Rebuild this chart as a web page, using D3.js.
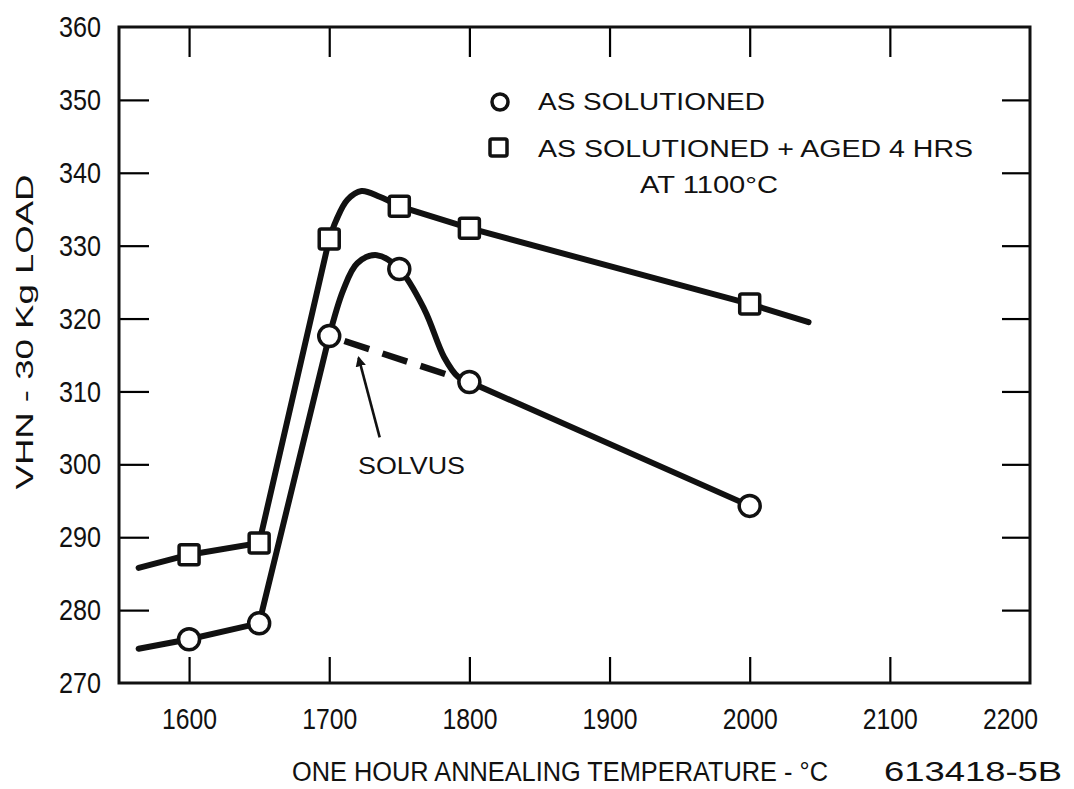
<!DOCTYPE html>
<html>
<head>
<meta charset="utf-8">
<script src="https://cdn.jsdelivr.net/npm/d3@7"></script>
<style>
  body { margin: 0; background: #fff; }
  text { font-family: "Liberation Sans", Arial, sans-serif; fill: #111; }
</style>
</head>
<body>
<script>
// values
const temps = [1600, 1650, 1700, 1750, 1800, 2000];
const solutioned = [276.0, 278.2, 317.6, 326.8, 311.3, 294.3];
const aged = [287.6, 289.2, 330.9, 335.4, 332.4, 322.0];

// traced points along the drawn curves (incl. line ends and the humps)
const solCurveT = [1564, 1600, 1650, 1700, 1710, 1720, 1734, 1750, 1768, 1782, 1792, 1800, 2000];
const solCurveV = [274.7, 276.0, 278.2, 317.6, 323.9, 327.6, 328.7, 326.8, 321.2, 314.7, 312.0, 311.3, 294.3];
const agedCurveT = [1564, 1600, 1650, 1700, 1705, 1713, 1723, 1736, 1750, 1800, 2000, 2042];
const agedCurveV = [285.8, 287.6, 289.2, 330.9, 333.5, 336.3, 337.5, 336.7, 335.4, 332.4, 322.0, 319.5];

// solvus dashed line and its arrow
const solvusT = [1700, 1800];
const solvusV = [317.6, 311.3];
const arrowT = [1736, 1721];
const arrowV = [303.7, 314.6];

const xTicks = [1600, 1700, 1800, 1900, 2000, 2100, 2200];
const yTicks = [270, 280, 290, 300, 310, 320, 330, 340, 350, 360];

const width = 1074, height = 789;
const svg = d3.select("body").append("svg")
    .attr("width", width)
    .attr("height", height);

const x = d3.scaleLinear().domain([1550, 2200]).range([119, 1030]);
const y = d3.scaleLinear().domain([270, 360]).range([683, 27]);

// axes, ticks pointing inward
svg.append("g")
    .attr("transform", `translate(0,${y(270)})`)
    .call(d3.axisBottom(x).tickValues(xTicks).tickSize(-26).tickPadding(25).tickFormat(d3.format("d")))
    .call(g => g.select(".domain").remove())
    .call(g => g.selectAll(".tick line").attr("stroke-width", 2.2).filter(d => d == 2200).remove())
    .call(g => g.selectAll(".tick text")
        .attr("font-size", 30).attr("fill", "#111")
        .attr("textLength", 55).attr("lengthAdjust", "spacingAndGlyphs")
        .attr("x", d => d == 2200 ? -20 : 0));

svg.append("g")
    .attr("transform", `translate(${x(1550)},0)`)
    .call(d3.axisLeft(y).tickValues(yTicks).tickSize(-30).tickPadding(18))
    .call(g => g.select(".domain").remove())
    .call(g => g.selectAll(".tick line").attr("stroke-width", 2.2).filter(d => d == 270 || d == 360).remove())
    .call(g => g.selectAll(".tick text")
        .attr("font-size", 30).attr("fill", "#111")
        .attr("textLength", 42).attr("lengthAdjust", "spacingAndGlyphs"));

svg.append("g")
    .attr("transform", `translate(0,${y(360)})`)
    .call(d3.axisTop(x).tickValues(xTicks.filter(d => d < 2200)).tickSize(-30).tickFormat(""))
    .call(g => g.select(".domain").remove())
    .call(g => g.selectAll(".tick line").attr("stroke-width", 2.2));

svg.append("g")
    .attr("transform", `translate(${x(2200)},0)`)
    .call(d3.axisRight(y).tickValues(yTicks.filter(d => d > 270 && d < 360)).tickSize(-28).tickFormat(""))
    .call(g => g.select(".domain").remove())
    .call(g => g.selectAll(".tick line").attr("stroke-width", 2.2));

svg.append("rect")
    .attr("x", x(1550))
    .attr("y", y(360))
    .attr("width", x(2200) - x(1550))
    .attr("height", y(270) - y(360))
    .attr("fill", "none")
    .attr("stroke", "#111")
    .attr("stroke-width", 3);

// curves: straight pieces with a smooth hump in the middle
function drawCurve(ts, vs, pieces) {
    const pts = ts.map((t, i) => [t, vs[i]]);
    pieces.forEach(p => {
        const line = d3.line().x(d => x(d[0])).y(d => y(d[1])).curve(p[2]);
        svg.append("path")
            .attr("d", line(pts.slice(p[0], p[1] + 1)))
            .attr("fill", "none")
            .attr("stroke", "#111")
            .attr("stroke-width", 6)
            .attr("stroke-linecap", "round")
            .attr("stroke-linejoin", "round");
    });
}

const smooth = d3.curveCatmullRom.alpha(0.5);
drawCurve(agedCurveT, agedCurveV, [[0, 3, d3.curveLinear], [3, 8, smooth], [8, 11, d3.curveLinear]]);
drawCurve(solCurveT, solCurveV, [[0, 3, d3.curveLinear], [3, 11, smooth], [11, 12, d3.curveLinear]]);

// solvus
svg.append("path")
    .attr("d", d3.line().x(d => x(d[0])).y(d => y(d[1]))(solvusT.map((t, i) => [t, solvusV[i]])))
    .attr("stroke", "#111")
    .attr("stroke-width", 6.5)
    .attr("stroke-dasharray", "26,14")
    .attr("stroke-dashoffset", -16)
    .attr("fill", "none");

svg.append("defs").append("marker")
    .attr("id", "head")
    .attr("viewBox", "0 0 10 10")
    .attr("refX", 8).attr("refY", 5)
    .attr("markerWidth", 4).attr("markerHeight", 5)
    .attr("orient", "auto")
    .append("path")
    .attr("d", "M0,0 L10,5 L0,10 Z")
    .attr("fill", "#111");

svg.append("line")
    .attr("x1", x(arrowT[0])).attr("y1", y(arrowV[0]))
    .attr("x2", x(arrowT[1])).attr("y2", y(arrowV[1]))
    .attr("stroke", "#111")
    .attr("stroke-width", 2.6)
    .attr("marker-end", "url(#head)");

svg.append("text")
    .attr("x", 358).attr("y", 474)
    .attr("font-size", 24)
    .attr("textLength", 107).attr("lengthAdjust", "spacingAndGlyphs")
    .text("SOLVUS");

// markers
svg.selectAll(".sq")
    .data(temps)
    .enter()
    .append("rect")
    .attr("class", "sq")
    .attr("x", (d, i) => x(d) - 10)
    .attr("y", (d, i) => y(aged[i]) - 10)
    .attr("width", 20)
    .attr("height", 20)
    .attr("rx", 2)
    .attr("fill", "#fff")
    .attr("stroke", "#111")
    .attr("stroke-width", 3.5);

svg.selectAll(".ci")
    .data(temps)
    .enter()
    .append("circle")
    .attr("class", "ci")
    .attr("cx", d => x(d))
    .attr("cy", (d, i) => y(solutioned[i]))
    .attr("r", 10.5)
    .attr("fill", "#fff")
    .attr("stroke", "#111")
    .attr("stroke-width", 3.5);

// legend
svg.append("circle")
    .attr("cx", 500).attr("cy", 102).attr("r", 8)
    .attr("fill", "#fff").attr("stroke", "#111").attr("stroke-width", 3.5);
svg.append("text")
    .attr("x", 538).attr("y", 110)
    .attr("font-size", 23)
    .attr("textLength", 227).attr("lengthAdjust", "spacingAndGlyphs")
    .text("AS SOLUTIONED");

svg.append("rect")
    .attr("x", 490).attr("y", 139).attr("width", 17).attr("height", 17).attr("rx", 2)
    .attr("fill", "#fff").attr("stroke", "#111").attr("stroke-width", 3.5);
svg.append("text")
    .attr("x", 538).attr("y", 157)
    .attr("font-size", 23)
    .attr("textLength", 435).attr("lengthAdjust", "spacingAndGlyphs")
    .text("AS SOLUTIONED + AGED 4 HRS");
svg.append("text")
    .attr("x", 640).attr("y", 193)
    .attr("font-size", 23)
    .attr("textLength", 138).attr("lengthAdjust", "spacingAndGlyphs")
    .text("AT 1100°C");

// axis titles
svg.append("text")
    .attr("transform", "translate(33,332) rotate(-90)")
    .attr("text-anchor", "middle")
    .attr("font-size", 24)
    .attr("textLength", 315).attr("lengthAdjust", "spacingAndGlyphs")
    .text("VHN - 30 Kg LOAD");

svg.append("text")
    .attr("x", 292).attr("y", 781)
    .attr("font-size", 27)
    .attr("textLength", 536).attr("lengthAdjust", "spacingAndGlyphs")
    .text("ONE HOUR ANNEALING TEMPERATURE - °C");

svg.append("text")
    .attr("x", 884).attr("y", 781)
    .attr("font-size", 27)
    .attr("textLength", 178).attr("lengthAdjust", "spacingAndGlyphs")
    .text("613418-5B");
</script>
</body>
</html>
